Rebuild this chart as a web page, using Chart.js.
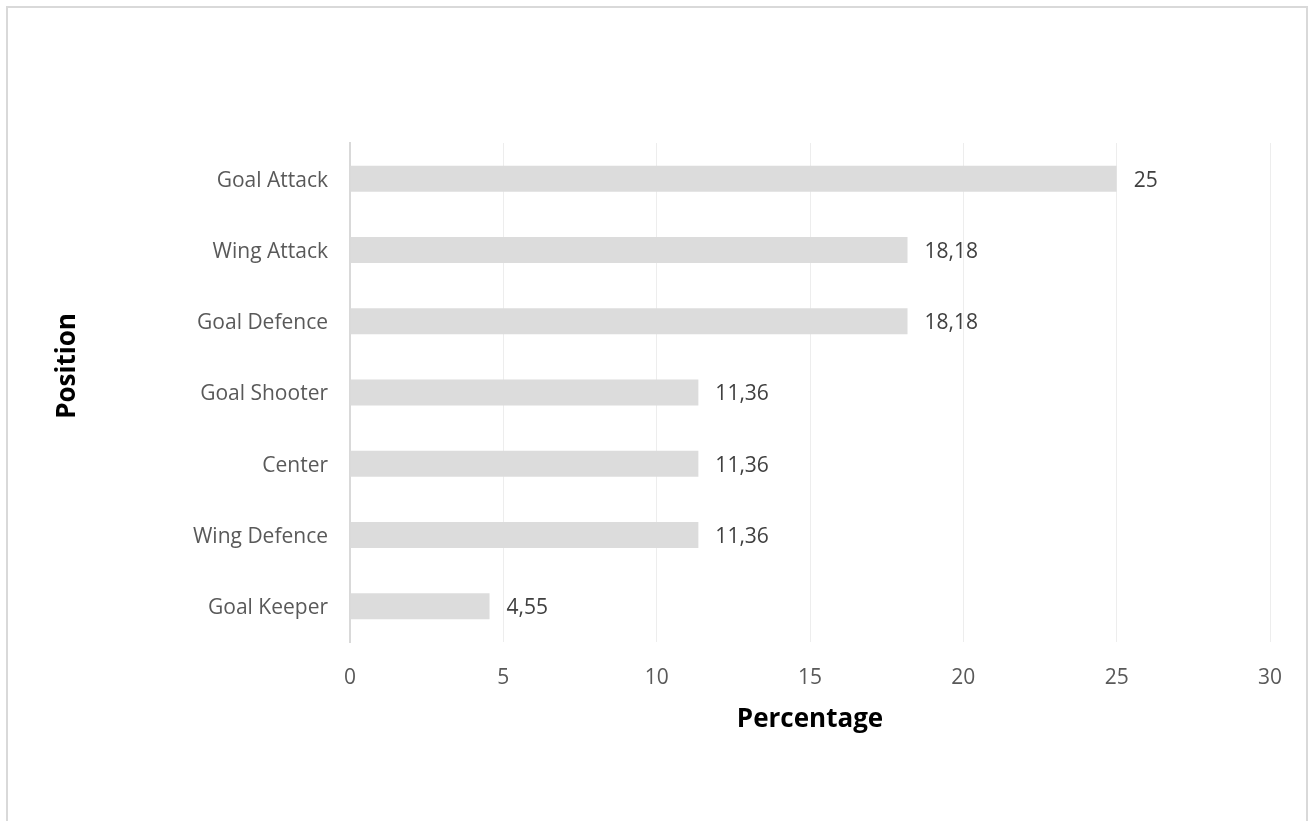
<!DOCTYPE html>
<html>
<head>
<meta charset="utf-8">
<script src="https://cdn.jsdelivr.net/npm/chart.js@4/dist/chart.umd.min.js"></script>
<style>
  html, body { margin: 0; padding: 0; background: #ffffff; }
  #frame {
    position: absolute; left: 6px; top: 6px; width: 1302px; height: 830px;
    border: 2px solid #d9d9d9; border-bottom: none; box-sizing: border-box;
  }
  #wrap { position: absolute; left: 0; top: 0; width: 1312px; height: 821px; }
</style>
</head>
<body>
<div id="frame"></div>
<div id="wrap"><canvas id="chart" width="1312" height="821"></canvas></div>
<script>
// Share of players by netball position
const positions = ['Goal Attack', 'Wing Attack', 'Goal Defence', 'Goal Shooter', 'Center', 'Wing Defence', 'Goal Keeper'];
const percentages = [25, 18.18, 18.18, 11.36, 11.36, 11.36, 4.55];
const xTicks = [0, 5, 10, 15, 20, 25, 30];
const xTitle = 'Percentage';
const yTitle = 'Position';

const FONT = "'Open Sans', 'Noto Sans', sans-serif";

// Writes each bar's value at its end, with a decimal comma
const valueLabels = {
  id: 'valueLabels',
  afterDatasetsDraw(chart) {
    const ctx = chart.ctx;
    const meta = chart.getDatasetMeta(0);
    ctx.save();
    ctx.font = '21px ' + FONT;
    ctx.fillStyle = '#404040';
    ctx.textAlign = 'left';
    ctx.textBaseline = 'middle';
    meta.data.forEach((bar, i) => {
      const txt = String(percentages[i]).replace('.', ',');
      ctx.fillText(txt, bar.x + 17, bar.y + 2);
    });
    ctx.restore();
  }
};

// Axis titles: bold, black, placed under and left of the plot
const axisTitles = {
  id: 'axisTitles',
  afterDraw(chart) {
    const ctx = chart.ctx;
    const area = chart.chartArea;
    ctx.save();
    ctx.font = 'bold 26px ' + FONT;
    ctx.fillStyle = '#000000';
    ctx.textAlign = 'center';
    ctx.textBaseline = 'middle';
    ctx.fillText(xTitle, (area.left + area.right) / 2, 720);
    ctx.translate(68, 366);
    ctx.rotate(-Math.PI / 2);
    ctx.fillText(yTitle, 0, 0);
    ctx.restore();
  }
};

new Chart(document.getElementById('chart'), {
  type: 'bar',
  data: {
    labels: positions,
    datasets: [{
      data: percentages,
      backgroundColor: '#dcdcdc',
      borderWidth: 0,
      categoryPercentage: 1,
      barPercentage: 0.365
    }]
  },
  options: {
    indexAxis: 'y',
    responsive: false,
    animation: false,
    layout: { padding: { top: 143, right: 42, left: 0, bottom: 0 } },
    plugins: { legend: { display: false }, tooltip: { enabled: false } },
    scales: {
      x: {
        min: 0, max: 30,
        afterBuildTicks(scale) { scale.ticks = xTicks.map(v => ({ value: v })); },
        grid: { color: '#ededed', lineWidth: 1, drawTicks: false },
        border: { display: false },
        ticks: { color: '#595959', font: { family: FONT, size: 21 }, padding: 23 },
        afterFit(scale) { scale.height = 821 - 642; }
      },
      y: {
        grid: { display: false, drawTicks: false },
        border: { display: true, color: '#d9d9d9', width: 2 },
        ticks: { color: '#595959', font: { family: FONT, size: 21 }, padding: 22, labelOffset: 2 },
        afterFit(scale) { scale.width = 350; }
      }
    }
  },
  plugins: [valueLabels, axisTitles]
});
</script>
</body>
</html>
